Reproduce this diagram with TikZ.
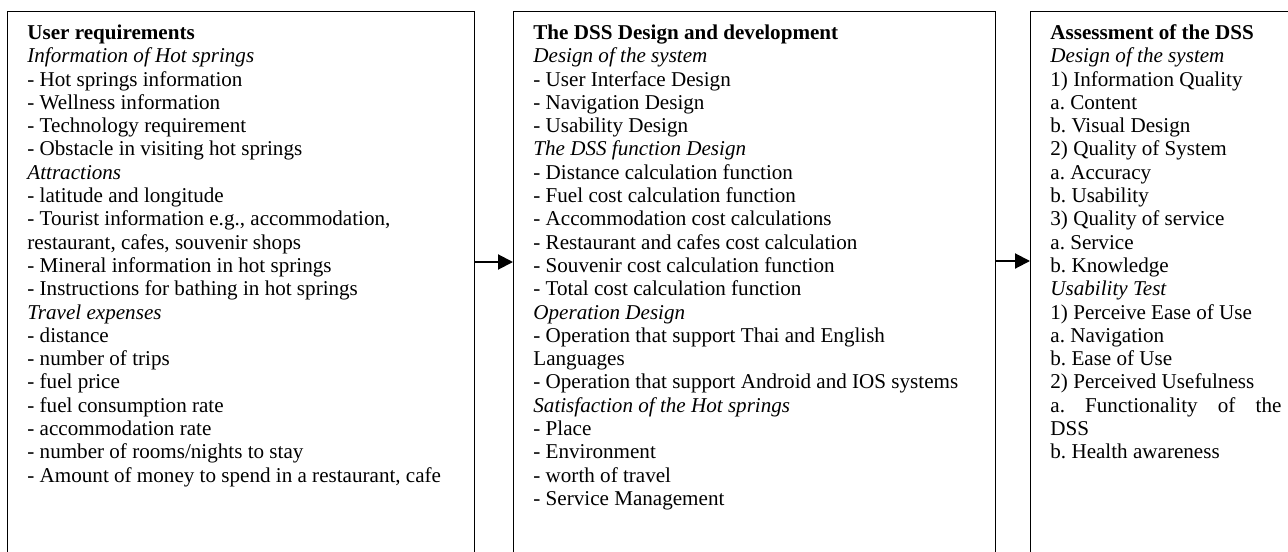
\documentclass[tikz,border=0pt]{standalone}
\usepackage{fontspec}
\setmainfont{Liberation Serif}
\usetikzlibrary{arrows.meta,positioning}
\frenchspacing
\begin{document}
\begin{tikzpicture}[x=0.5pt,y=-0.5pt,
  frame/.style={draw,line width=0.6pt,inner sep=0pt,anchor=north west,minimum height=290pt},
  list/.style={inner sep=0pt,anchor=north west,align=left,font=\fontsize{10.55pt}{11.65pt}\selectfont},
  link/.style={line width=1pt,-{Triangle[length=7.5pt,width=7.5pt]}}]
\useasboundingbox (0,0) rectangle (1288,551);
% the three stages
\node[frame,minimum width=233.5pt] (req) at (7,11) {};
\node[frame,minimum width=241pt] (dss) at (513,11) {};
\node[frame,minimum width=140pt] (assess) at (1030,11) {};
\node[list] (reqlist) at ([shift={(10pt,-5.85pt)}]req.north west) {\strut\textbf{User requirements}\\
  \textit{Information of Hot springs}\\
  - Hot springs information\\
  - Wellness information\\
  - Technology requirement\\
  - Obstacle in visiting hot springs\\
  \textit{Attractions}\\
  - latitude and longitude\\
  - Tourist information e.g., accommodation,\\
  restaurant, cafes, souvenir shops\\
  - Mineral information in hot springs\\
  - Instructions for bathing in hot springs\\
  \textit{Travel expenses}\\
  - distance\\
  - number of trips\\
  - fuel price\\
  - fuel consumption rate\\
  - accommodation rate\\
  - number of rooms/nights to stay\\
  - Amount of money to spend in a restaurant, cafe};
\node[list] (dsslist) at ([shift={(10pt,-5.85pt)}]dss.north west) {\strut\textbf{The DSS Design and development}\\
  \textit{Design of the system}\\
  - User Interface Design\\
  - Navigation Design\\
  - Usability Design\\
  \textit{The DSS function Design}\\
  - Distance calculation function\\
  - Fuel cost calculation function\\
  - Accommodation cost calculations\\
  - Restaurant and cafes cost calculation\\
  - Souvenir cost calculation function\\
  - Total cost calculation function\\
  \textit{Operation Design}\\
  - Operation that support Thai and English\\
  Languages\\
  - Operation that support Android and IOS systems\\
  \textit{Satisfaction of the Hot springs}\\
  - Place\\
  - Environment\\
  - worth of travel\\
  - Service Management};
\node[list] (assesslist) at ([shift={(10pt,-5.85pt)}]assess.north west) {\strut\textbf{Assessment of the DSS}\\
  \textit{Design of the system}\\
  1) Information Quality\\
  a. Content\\
  b. Visual Design\\
  2) Quality of System\\
  a. Accuracy\\
  b. Usability\\
  3) Quality of service\\
  a. Service\\
  b. Knowledge\\
  \textit{Usability Test}\\
  1) Perceive Ease of Use\\
  a. Navigation\\
  b. Ease of Use\\
  2) Perceived Usefulness\\
  \makebox[115.5pt][s]{a. Functionality of the}\\
  DSS\\
  b. Health awareness};
% flow between stages
\draw[link] ([yshift=-125.5pt]req.north east) -- ([yshift=-125.5pt]dss.north west);
\draw[link] ([yshift=-125pt]dss.north east) -- ([yshift=-125pt]assess.north west);
\end{tikzpicture}
\end{document}
